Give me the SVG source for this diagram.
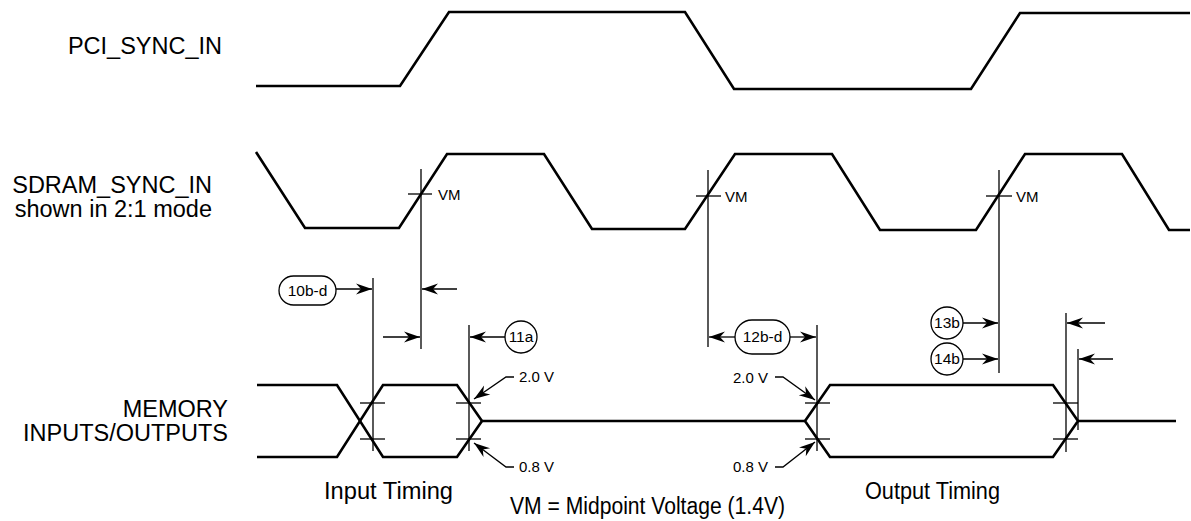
<svg xmlns="http://www.w3.org/2000/svg" width="1191" height="521" viewBox="0 0 1191 521">
<style>
  .wave { fill: none; stroke: #000; stroke-width: 2.6; stroke-linejoin: miter; }
  .thin { fill: none; stroke: #000; stroke-width: 1.3; }
  .arr { fill: none; stroke: #000; stroke-width: 1.3; marker-end: url(#ah); }
  .bub { fill: #fff; stroke: #000; stroke-width: 1.3; }
  .sig { font-family: "Liberation Sans", Arial, sans-serif; font-size: 23.5px; fill: #000; text-anchor: end; }
  .lbl { font-family: "Liberation Sans", Arial, sans-serif; font-size: 15px; fill: #000; }
  .ref { font-family: "Liberation Sans", Arial, sans-serif; font-size: 15.5px; fill: #000; text-anchor: middle; }
  .volt { font-family: "Liberation Sans", Arial, sans-serif; font-size: 15px; fill: #000; }
  .cap { font-family: "Liberation Sans", Arial, sans-serif; font-size: 23px; fill: #000; }
</style>
<defs>
  <marker id="ah" viewBox="-17 -6 18 12" refX="0" refY="0" markerWidth="18" markerHeight="12" markerUnits="userSpaceOnUse" orient="auto">
    <path d="M0,0 L-16,-5.5 L-11,0 L-16,5.5 Z" fill="#000"/>
  </marker>
</defs>

<g id="labels">
  <text class="sig" x="222" y="54">PCI_SYNC_IN</text>
  <text class="sig" x="212" y="193">SDRAM_SYNC_IN</text>
  <text class="sig" x="212" y="217">shown in 2:1 mode</text>
  <text class="sig" x="228" y="417">MEMORY</text>
  <text class="sig" x="228" y="441">INPUTS/OUTPUTS</text>
</g>

<g id="pci_sync_in">
  <polyline class="wave" points="256,86 400,86 449,12 685,12 734,89 971,89 1020,13 1190,13"/>
</g>

<g id="sdram_sync_in">
  <polyline class="wave" points="256,152 305,228 399,228 447,154 544,154 592,229 685,229 735,154 832,154 880,230 976,230 1025,154 1122,154 1169,230 1190,230"/>
  <g id="vm1">
    <line class="thin" x1="421" y1="169" x2="421" y2="349"/>
    <line class="thin" x1="408" y1="194" x2="432" y2="194"/>
    <text class="lbl" x="438" y="200">VM</text>
  </g>
  <g id="vm2">
    <line class="thin" x1="708" y1="170" x2="708" y2="347"/>
    <line class="thin" x1="696" y1="196" x2="721" y2="196"/>
    <text class="lbl" x="725" y="202">VM</text>
  </g>
  <g id="vm3">
    <line class="thin" x1="999" y1="170" x2="999" y2="373"/>
    <line class="thin" x1="986" y1="196" x2="1012" y2="196"/>
    <text class="lbl" x="1016" y="202">VM</text>
  </g>
</g>

<g id="memory_io">
  <polyline class="wave" points="257,385 337,385 383,457 457,457 482,421"/>
  <polyline class="wave" points="257,457 337,457 383,385 457,385 482,421"/>
  <line class="wave" x1="482" y1="421" x2="805" y2="421"/>
  <polygon class="wave" points="805,421 830,385 1053,385 1078,421 1053,457 830,457"/>
  <line class="wave" x1="1078" y1="421" x2="1176" y2="421"/>
  <line class="thin" x1="373" y1="278" x2="373" y2="451"/>
  <line class="thin" x1="469" y1="325" x2="469" y2="451"/>
  <line class="thin" x1="817" y1="325" x2="817" y2="451"/>
  <line class="thin" x1="1066" y1="313" x2="1066" y2="452"/>
  <line class="thin" x1="1078" y1="349" x2="1078" y2="430"/>
  <line class="thin" x1="360" y1="403" x2="385" y2="403"/>
  <line class="thin" x1="360" y1="439" x2="385" y2="439"/>
  <line class="thin" x1="456" y1="403" x2="481" y2="403"/>
  <line class="thin" x1="456" y1="439" x2="481" y2="439"/>
  <line class="thin" x1="805" y1="403" x2="830" y2="403"/>
  <line class="thin" x1="805" y1="439" x2="830" y2="439"/>
  <line class="thin" x1="1053" y1="403" x2="1078" y2="403"/>
  <line class="thin" x1="1053" y1="439" x2="1078" y2="439"/>
</g>

<g id="connectors">
  <line class="arr" x1="336" y1="289" x2="372" y2="289"/>
  <line class="arr" x1="457" y1="289" x2="422" y2="289"/>
  <line class="arr" x1="383" y1="337" x2="420" y2="337"/>
  <line class="arr" x1="505" y1="337" x2="470" y2="337"/>
  <line class="arr" x1="735" y1="337" x2="709" y2="337"/>
  <line class="arr" x1="790" y1="337" x2="816" y2="337"/>
  <line class="arr" x1="963" y1="323" x2="998" y2="323"/>
  <line class="arr" x1="963" y1="359" x2="998" y2="359"/>
  <line class="arr" x1="1105" y1="323" x2="1067" y2="323"/>
  <line class="arr" x1="1113" y1="359" x2="1079" y2="359"/>
  <polyline class="arr" points="514,377 506,377 474,399"/>
  <polyline class="arr" points="514,467 506,467 474,443"/>
  <polyline class="arr" points="775,377 783,377 815,400"/>
  <polyline class="arr" points="775,467 783,467 815,442"/>
</g>

<g id="ref_10b-d">
  <rect class="bub" x="279" y="276" width="57" height="29" rx="14.5"/>
  <text class="ref" x="307.5" y="296">10b-d</text>
</g>
<g id="ref_11a">
  <circle class="bub" cx="521" cy="337" r="16"/>
  <text class="ref" x="521" y="342">11a</text>
</g>
<g id="ref_12b-d">
  <rect class="bub" x="735" y="320" width="55" height="34" rx="17"/>
  <text class="ref" x="762.5" y="342">12b-d</text>
</g>
<g id="ref_13b">
  <circle class="bub" cx="947" cy="323" r="16"/>
  <text class="ref" x="947" y="328">13b</text>
</g>
<g id="ref_14b">
  <circle class="bub" cx="947" cy="359" r="16"/>
  <text class="ref" x="947" y="364">14b</text>
</g>

<g id="voltages">
  <text class="volt" x="519" y="382">2.0 V</text>
  <text class="volt" x="519" y="472">0.8 V</text>
  <text class="volt" x="733" y="383">2.0 V</text>
  <text class="volt" x="733" y="472">0.8 V</text>
</g>

<g id="captions">
  <text class="cap" x="324" y="499" textLength="129" lengthAdjust="spacingAndGlyphs">Input Timing</text>
  <text class="cap" x="865" y="499" textLength="135" lengthAdjust="spacingAndGlyphs">Output Timing</text>
  <text class="cap" x="510" y="514" textLength="275" lengthAdjust="spacingAndGlyphs">VM = Midpoint Voltage (1.4V)</text>
</g>
</svg>
